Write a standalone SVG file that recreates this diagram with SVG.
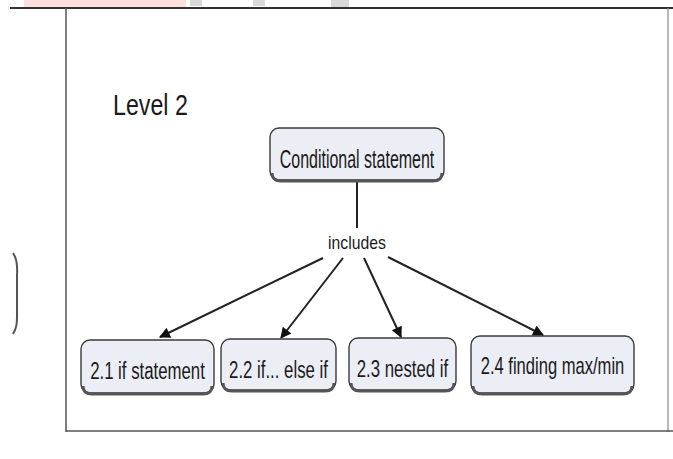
<svg xmlns="http://www.w3.org/2000/svg" width="673" height="459" viewBox="0 0 673 459">
<defs>
<style>
.box{fill:#eceef5;stroke:#3a3a3a;stroke-width:1.4}
.shadow{fill:none;stroke:#555;stroke-width:3}
.t{font-family:"Liberation Sans",Arial,sans-serif;fill:#1a1a1a}
.bt{font-size:23px;text-anchor:middle}
.edge{stroke:#222;stroke-width:2;fill:none}
</style>
<marker id="ah" viewBox="0 0 10 10" refX="9" refY="5" markerWidth="13" markerHeight="11" orient="auto" markerUnits="userSpaceOnUse">
<path d="M0,0 L10,5 L0,10 z" fill="#111"/>
</marker>
</defs>
<rect width="673" height="459" fill="#ffffff"/>
<rect x="24" y="0" width="162" height="7" fill="#fde0db"/>
<rect x="190" y="0" width="12" height="6" fill="#d9d9d9"/>
<rect x="253" y="0" width="12" height="6" fill="#d9d9d9"/>
<rect x="331" y="0" width="18" height="7" fill="#d9d9d9"/>
<line x1="10" y1="8" x2="673" y2="8" stroke="#333" stroke-width="2"/>
<line x1="66" y1="8" x2="66" y2="432" stroke="#555" stroke-width="1.5"/>
<line x1="668" y1="8" x2="668" y2="432" stroke="#888" stroke-width="1.2"/>
<line x1="66" y1="431" x2="673" y2="431" stroke="#555" stroke-width="1.5"/>
<path d="M13,253 Q18,260 17,275 L17,318 Q17,328 13,334" fill="none" stroke="#555" stroke-width="2"/>
<text class="t" transform="translate(113,115) scale(0.8,1)" font-size="29">Level 2</text>
<g id="edges">
<line class="edge" x1="357" y1="182" x2="357" y2="228"/>
<line class="edge" x1="323" y1="258" x2="160" y2="337" marker-end="url(#ah)"/>
<line class="edge" x1="343" y1="258" x2="281" y2="338" marker-end="url(#ah)"/>
<line class="edge" x1="364" y1="258" x2="401" y2="337" marker-end="url(#ah)"/>
<line class="edge" x1="388" y1="257" x2="543" y2="335" marker-end="url(#ah)"/>
</g>
<g id="includes">
<text class="t" transform="translate(357,249) scale(0.83,1)" font-size="19" text-anchor="middle">includes</text>
</g>
<g id="n0">
<rect class="box" x="270" y="128" width="174" height="52" rx="9"/>
<path class="shadow" d="M272,173 Q272,181 281,181 L433,181 Q442,181 442,173"/>
<text class="t" transform="translate(357,168) scale(0.64,1)" font-size="25" text-anchor="middle">Conditional statement</text>
</g>
<g id="n1">
<rect class="box" x="81" y="340" width="133" height="53" rx="9"/>
<path class="shadow" d="M83,386 Q83,394 92,394 L203,394 Q212,394 212,386"/>
<text class="t bt" transform="translate(147.5,379) scale(0.73,1)">2.1 if statement</text>
</g>
<g id="n2">
<rect class="box" x="221" y="339" width="115" height="51" rx="9"/>
<path class="shadow" d="M223,383 Q223,391 232,391 L325,391 Q334,391 334,383"/>
<text class="t bt" transform="translate(278.5,378) scale(0.73,1)">2.2 if... else if</text>
</g>
<g id="n3">
<rect class="box" x="349" y="338" width="107" height="52" rx="9"/>
<path class="shadow" d="M351,383 Q351,391 360,391 L445,391 Q454,391 454,383"/>
<text class="t bt" transform="translate(402.5,377) scale(0.73,1)">2.3 nested if</text>
</g>
<g id="n4">
<rect class="box" x="471" y="336" width="163" height="57" rx="9"/>
<path class="shadow" d="M473,386 Q473,394 482,394 L623,394 Q632,394 632,386"/>
<text class="t bt" transform="translate(552.5,374) scale(0.72,1)">2.4 finding max/min</text>
</g>
</svg>
